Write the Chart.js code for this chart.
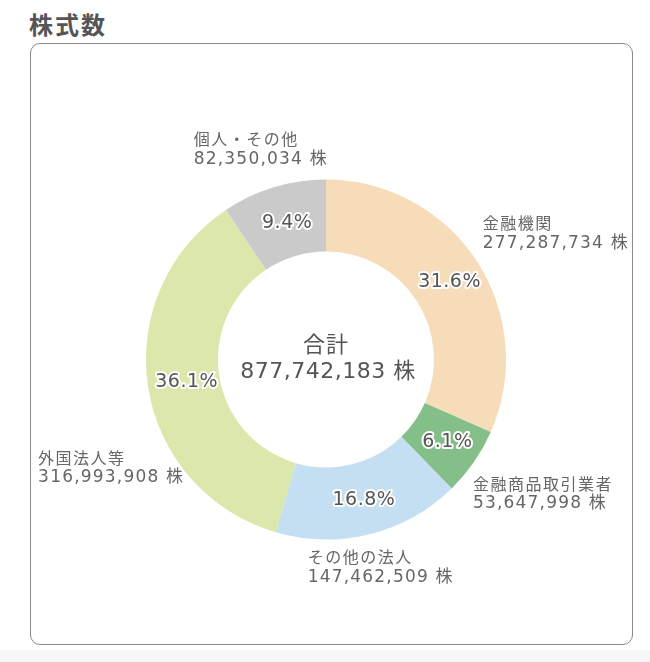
<!DOCTYPE html>
<html>
<head>
<meta charset="utf-8">
<script src="https://cdn.jsdelivr.net/npm/chart.js@4/dist/chart.umd.min.js"></script>
<style>
  html, body { margin: 0; padding: 0; background: #fff; width: 650px; height: 662px; overflow: hidden; }
  #title { position: absolute; left: 29px; top: 6px; margin: 0; font: bold 24px "Noto Sans CJK JP", sans-serif; color: #555; letter-spacing: 2px; }
  #card { position: absolute; left: 30px; top: 43px; width: 603px; height: 602px; box-sizing: border-box; border: 1.5px solid #8a8a8a; border-radius: 10px; background: #fff; }
  #bottom { position: absolute; left: 0; top: 650px; width: 650px; height: 12px; background: #f7f7f7; }
  #c { position: absolute; left: 0; top: 0; }
</style>
</head>
<body>
<div id="bottom"></div>
<h2 id="title">株式数</h2>
<div id="card"></div>
<canvas id="c" width="650" height="662"></canvas>
<script>
const categories = ['金融機関', '金融商品取引業者', 'その他の法人', '外国法人等', '個人・その他'];
const shares = [277287734, 53647998, 147462509, 316993908, 82350034];
const unit = '株';
const totalLabel = '合計';
const colors = ['#f7dcb9', '#84bf8a', '#c3dff1', '#dbe7ab', '#c9cac9'];
// label offsets (pixels) from each slice's outer mid-point: [dx, dy of first line]
const labelOffsets = [[6, -38], [-1, 22], [-62, 23], [-110, 71], [-80, -48]];

const fmt = n => n.toLocaleString('en-US');
const total = shares.reduce((a, b) => a + b, 0);
const FONT = '"DejaVu Sans", "Noto Sans CJK JP", sans-serif';
const CJK = '"Noto Sans CJK JP", sans-serif';

const textPlugin = {
  id: 'texts',
  afterDraw(chart) {
    const ctx = chart.ctx;
    const meta = chart.getDatasetMeta(0);
    ctx.save();
    ctx.textBaseline = 'middle';
    // center text
    const a0 = meta.data[0];
    ctx.fillStyle = '#555';
    ctx.textAlign = 'center';
    ctx.letterSpacing = '1px';
    ctx.font = '22px ' + CJK;
    ctx.fillText(totalLabel, a0.x, a0.y - 16);
    ctx.letterSpacing = '0.5px';
    ctx.font = '22px ' + FONT;
    ctx.fillText(fmt(total) + ' ' + unit, a0.x + 2, a0.y + 13);

    meta.data.forEach((arc, i) => {
      const p = arc.getProps(['x', 'y', 'startAngle', 'endAngle', 'innerRadius', 'outerRadius']);
      const mid = (p.startAngle + p.endAngle) / 2;
      const rm = (p.innerRadius + p.outerRadius) / 2;
      // percentage
      const pct = (shares[i] / total * 100).toFixed(1) + '%';
      const px = p.x + Math.cos(mid) * rm + 3;
      const py = p.y + Math.sin(mid) * rm + 1;
      ctx.font = '19px ' + FONT;
      ctx.letterSpacing = '0.5px';
      ctx.textAlign = 'center';
      ctx.lineJoin = 'round';
      ctx.lineWidth = 4;
      ctx.strokeStyle = '#fff';
      ctx.strokeText(pct, px, py);
      ctx.fillStyle = '#555';
      ctx.fillText(pct, px, py);
      // outer labels
      const ox = p.x + Math.cos(mid) * p.outerRadius + labelOffsets[i][0];
      const oy = p.y + Math.sin(mid) * p.outerRadius + labelOffsets[i][1];
      ctx.textAlign = 'left';
      ctx.fillStyle = '#666';
      ctx.font = '16px ' + CJK;
      ctx.letterSpacing = '1.5px';
      ctx.fillText(categories[i], ox, oy);
      ctx.font = '17px ' + FONT;
      ctx.letterSpacing = '1.2px';
      ctx.fillText(fmt(shares[i]) + ' ' + unit, ox, oy + 20);
    });
    ctx.restore();
  }
};

new Chart(document.getElementById('c'), {
  type: 'doughnut',
  data: {
    labels: categories,
    datasets: [{ data: shares, backgroundColor: colors, borderWidth: 0, hoverOffset: 0 }]
  },
  options: {
    responsive: false,
    animation: false,
    events: [],
    cutout: '60%',
    layout: { padding: { left: 146, right: 144, top: 179.5, bottom: 122.5 } },
    plugins: { legend: { display: false }, tooltip: { enabled: false } }
  },
  plugins: [textPlugin]
});
</script>
</body>
</html>
